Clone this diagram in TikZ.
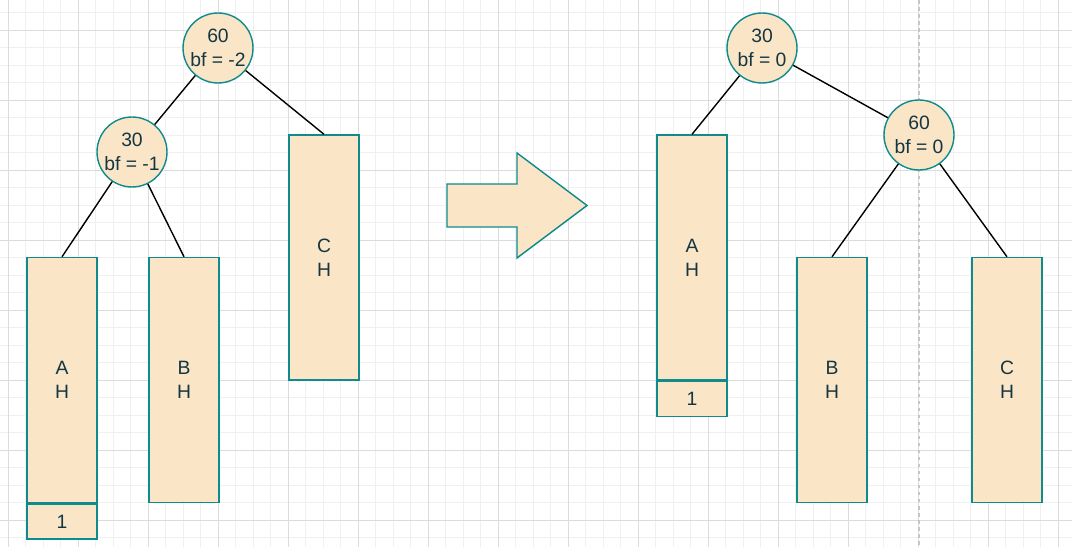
\documentclass[tikz,border=0pt]{standalone}
\usepackage{fontspec}
\setmainfont{Liberation Sans}
\usetikzlibrary{positioning}
\definecolor{ink}{HTML}{143642}
\definecolor{rim}{HTML}{0F8B8D}
\definecolor{peach}{HTML}{FAE5C7}
\definecolor{gridmajor}{HTML}{DCDCDC}
\definecolor{gridminor}{HTML}{F0F0F0}

\begin{document}
\begin{tikzpicture}[
    x=0.02cm, y=-0.02cm,
    keynode/.style={circle, draw=rim, fill=peach, line width=0.8pt, text=ink,
                    minimum size=1.4cm, inner sep=0pt, align=center,
                    font=\fontsize{11}{13.6}\selectfont},
    sub/.style   ={rectangle, draw=rim, fill=peach, line width=0.8pt, text=ink,
                   minimum width=1.4cm, minimum height=4.9cm, align=center,
                   font=\fontsize{11}{13.6}\selectfont},
    cnt/.style   ={sub, minimum height=0.7cm},
    link/.style  ={line width=0.8pt, draw=black}]

  % canvas and grid
  \fill[white] (0,0) rectangle (1072,547);
  \useasboundingbox (0,0) rectangle (1072,547);
  \foreach \gx in {8,25.5,...,1070} \draw[gridminor, line width=0.5pt] (\gx,0) -- (\gx,547);
  \foreach \gy in {12.5,30,...,546} \draw[gridminor, line width=0.5pt] (0,\gy) -- (1072,\gy);
  \foreach \gx in {8,78,...,1070} \draw[gridmajor, line width=0.5pt] (\gx,0) -- (\gx,547);
  \foreach \gy in {30,100,...,546} \draw[gridmajor, line width=0.5pt] (0,\gy) -- (1072,\gy);
  \draw[gray!45, line width=0.6pt, dash pattern=on 2pt off 2pt] (919,0) -- (919,547);

  % before rotation
  \node[keynode] (l60) at (218,48)  {60\\bf = -2};
  \node[keynode] (l30) at (132,152) {30\\bf = -1};
  \node[sub] (lA) at (62,380)    {A\\H};
  \node[cnt, below=0pt of lA] (l1) {1};
  \node[sub] (lB) at (184,380)   {B\\H};
  \node[sub] (lC) at (324,257.5) {C\\H};

  \draw[link] (l60) -- (l30);
  \draw[link] (l60) -- (lC.north);
  \draw[link] (l30) -- (lA.north);
  \draw[link] (l30) -- (lB.north);

  % rotation arrow
  \draw[draw=rim, fill=peach, line width=0.8pt]
    (447,184) -- (517,184) -- (517,153) -- (587,205.5) -- (517,258)
    -- (517,227) -- (447,227) -- cycle;

  % after rotation
  \node[keynode] (r30) at (762,48)  {30\\bf = 0};
  \node[keynode] (r60) at (919,135) {60\\bf = 0};
  \node[sub] (rA) at (692,257.5) {A\\H};
  \node[cnt, below=0pt of rA] (r1) {1};
  \node[sub] (rB) at (832,380)   {B\\H};
  \node[sub] (rC) at (1007,380)  {C\\H};

  \draw[link] (r30) -- (rA.north);
  \draw[link] (r30) -- (r60);
  \draw[link] (r60) -- (rB.north);
  \draw[link] (r60) -- (rC.north);
\end{tikzpicture}
\end{document}
